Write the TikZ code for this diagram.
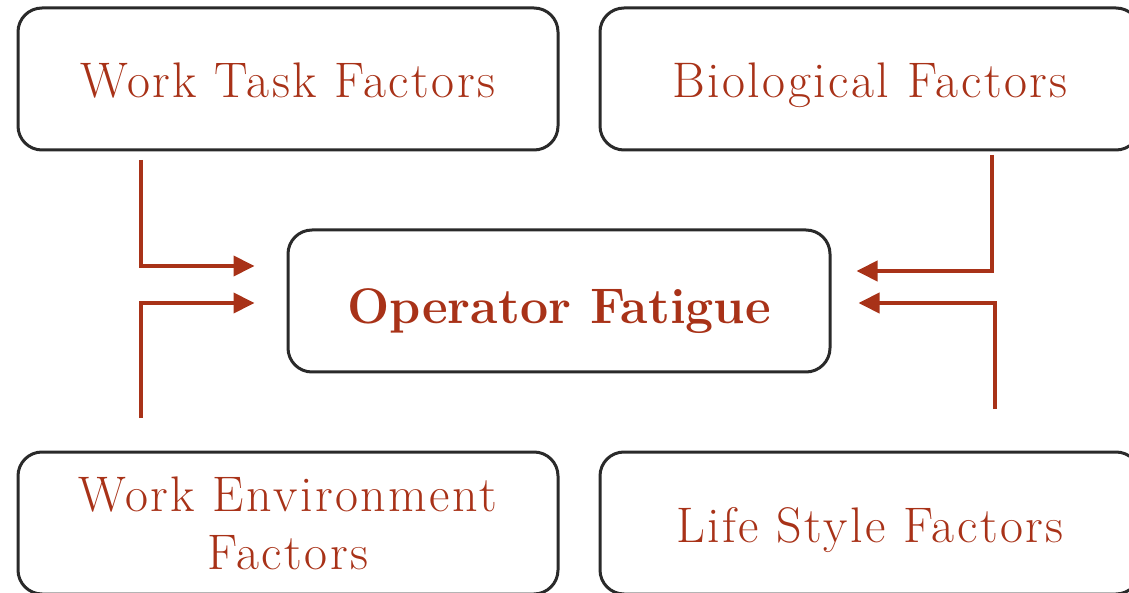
\documentclass[tikz,border=0pt]{standalone}
\usepackage{fontspec}
\usetikzlibrary{arrows.meta,positioning}
\newfontfamily\factorfont{Latin Modern Roman}[LetterSpace=5]
\definecolor{rust}{RGB}{168,50,24}
\definecolor{boxgray}{RGB}{42,42,42}
\begin{document}
\begin{tikzpicture}[x=1pt, y=1pt, line join=miter,
	factor/.style={draw=boxgray, line width=3pt, rounded corners=24pt, minimum width=540pt, minimum height=142pt, align=center, text=rust, font=\factorfont\fontsize{50}{58}\selectfont, inner sep=0pt},
	oneline/.style={text height=50pt, text depth=12pt},
	flow/.style={draw=rust, line width=4pt, -{Triangle[length=21pt,width=20pt]}}]
	\def \gap{32};
	\useasboundingbox (0,0) rectangle (1129,592);
	\node[factor, oneline] (task) at (288,513) {Work Task Factors};
	\node[factor, oneline] (bio) at (870,513) {Biological Factors};
	\node[factor, minimum width=542pt, text height=58pt, text depth=12pt, font=\fontsize{50}{58}\selectfont\bfseries] (fatigue) at (559,291) {Operator Fatigue};
	\node[factor] (env) at (288,69) {Work Environment\\Factors};
	\node[factor, oneline] (life) at (870,69) {Life Style Factors};
	% tails of the four feeders
	\coordinate (task-tail) at (141,432);
	\coordinate (env-tail) at (141,174);
	\coordinate (bio-tail) at (992,437);
	\coordinate (life-tail) at (995,183);
	\draw[flow] (task-tail) |- ([xshift=-\gap pt, yshift=35pt]fatigue.west);
	\draw[flow] (env-tail) |- ([xshift=-\gap pt, yshift=-2pt]fatigue.west);
	\draw[flow] (bio-tail) |- ([xshift=25pt, yshift=30pt]fatigue.east);
	\draw[flow] (life-tail) |- ([xshift=27pt, yshift=-2pt]fatigue.east);
\end{tikzpicture}
\end{document}
